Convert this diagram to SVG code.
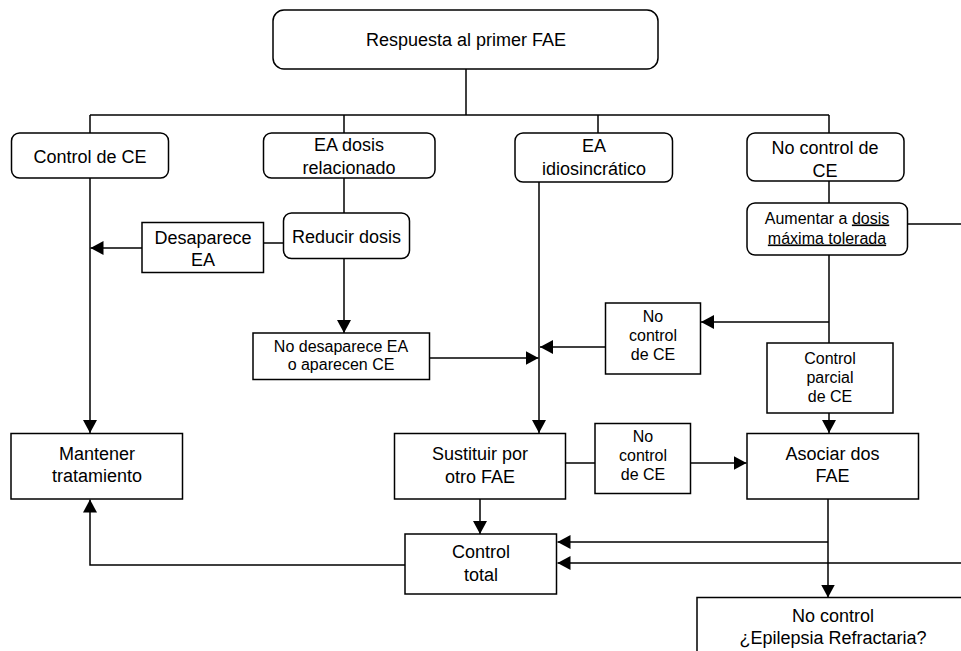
<svg xmlns="http://www.w3.org/2000/svg" width="961" height="651" viewBox="0 0 961 651">
<defs>
<marker id="ah" markerUnits="userSpaceOnUse" markerWidth="14" markerHeight="14" refX="13" refY="7" orient="auto">
<path d="M0,0 L13,7 L0,14 z" fill="#000"/>
</marker>
<style>
.box{fill:#fff;stroke:#000;stroke-width:1.5}
.t{font-family:"Liberation Sans",Arial,Helvetica,sans-serif;font-size:18px;fill:#000;text-anchor:middle}
.s{font-size:16px}
.c path{fill:none;stroke:#000;stroke-width:1.5}
.a{marker-end:url(#ah)}
.u{text-decoration:underline}
</style>
</defs>
<rect width="961" height="651" fill="#fff"/>
<g class="c" id="connectors">
<path d="M466,69 V115"/>
<path d="M90,115 H829"/>
<path d="M90,115 V133"/>
<path d="M344,115 V133"/>
<path d="M598,115 V133"/>
<path d="M829,115 V133"/>
<path class="a" d="M90,178 V433"/>
<path d="M344,178 V213"/>
<path d="M283,243 H263"/>
<path class="a" d="M142,248 H90.5"/>
<path class="a" d="M344,258 V333"/>
<path class="a" d="M429,358 H538.5"/>
<path class="a" d="M539,182 V433"/>
<path class="a" d="M605,347 H540"/>
<path d="M829,181 V203"/>
<path d="M829,255 V343"/>
<path class="a" d="M829,322 H701"/>
<path class="a" d="M907,224 H975 V563 H557.5"/>
<path class="a" d="M829,413 V433"/>
<path d="M566,463 H595"/>
<path class="a" d="M691,463 H746.5"/>
<path class="a" d="M480,499 V534"/>
<path class="a" d="M828,499 V597.5"/>
<path class="a" d="M828,542 H557.5"/>
<path class="a" d="M405,565 H90 V499.5"/>
</g>
<g id="n-respuesta"><rect class="box" x="273" y="10" width="385" height="59" rx="11"/><text class="t" x="466" y="46">Respuesta al primer FAE</text></g>
<g id="n-control"><rect class="box" x="11.5" y="133" width="157" height="45" rx="8"/><text class="t" x="90" y="162.5">Control de CE</text></g>
<g id="n-eadosis"><rect class="box" x="263.5" y="133" width="171.5" height="45" rx="8"/><text class="t" x="349" y="151">EA dosis</text><text class="t" x="349" y="173.5">relacionado</text></g>
<g id="n-eaidio"><rect class="box" x="515" y="133" width="157.5" height="49" rx="8"/><text class="t" x="594" y="152">EA</text><text class="t" x="594" y="175">idiosincrático</text></g>
<g id="n-nocontrol"><rect class="box" x="747" y="133" width="157" height="48" rx="8"/><text class="t" x="825" y="154">No control de</text><text class="t" x="825" y="176.5">CE</text></g>
<g id="n-reducir"><rect class="box" x="283.5" y="213" width="126" height="45.5" rx="8"/><text class="t" x="346.5" y="243">Reducir dosis</text></g>
<g id="n-desaparece"><rect class="box" x="142" y="222.5" width="121.5" height="50" /><text class="t" x="203" y="243.5">Desaparece</text><text class="t" x="203" y="266">EA</text></g>
<g id="n-nodesaparece"><rect class="box" x="253" y="333" width="176.5" height="46.5"/><text class="t s" x="341" y="351.5">No desaparece EA</text><text class="t s" x="341" y="370">o aparecen CE</text></g>
<g id="n-aumentar"><rect class="box" x="747" y="203" width="160.5" height="52" rx="8"/><text class="t s" x="827" y="223.5">Aumentar a <tspan class="u">dosis</tspan></text><text class="t s u" x="827" y="243.5">máxima tolerada</text></g>
<g id="n-nocontrol2"><rect class="box" x="605.5" y="303" width="95" height="71"/><text class="t s" x="653" y="321.5">No</text><text class="t s" x="653" y="341">control</text><text class="t s" x="653" y="360">de CE</text></g>
<g id="n-parcial"><rect class="box" x="767" y="343" width="126" height="70"/><text class="t s" x="830" y="364">Control</text><text class="t s" x="830" y="383">parcial</text><text class="t s" x="830" y="402">de CE</text></g>
<g id="n-mantener"><rect class="box" x="11" y="433.5" width="171.5" height="65.5"/><text class="t" x="97" y="460">Mantener</text><text class="t" x="97" y="482">tratamiento</text></g>
<g id="n-sustituir"><rect class="box" x="394.5" y="433.5" width="171" height="65.5"/><text class="t" x="480" y="460">Sustituir por</text><text class="t" x="480" y="482.5">otro FAE</text></g>
<g id="n-nocontrol3"><rect class="box" x="595" y="423.5" width="95.5" height="70"/><text class="t s" x="643" y="441.5">No</text><text class="t s" x="643" y="461">control</text><text class="t s" x="643" y="480">de CE</text></g>
<g id="n-asociar"><rect class="box" x="747" y="433.5" width="171.5" height="65.5"/><text class="t" x="832.5" y="459.5">Asociar dos</text><text class="t" x="832.5" y="482">FAE</text></g>
<g id="n-total"><rect class="box" x="405" y="534" width="151.5" height="60"/><text class="t" x="481" y="558">Control</text><text class="t" x="481" y="581">total</text></g>
<g id="n-refractaria"><rect class="box" x="697" y="597.5" width="290" height="80"/><text class="t" x="833" y="621.5">No control</text><text class="t" x="833" y="644">¿Epilepsia Refractaria?</text></g>
</svg>
